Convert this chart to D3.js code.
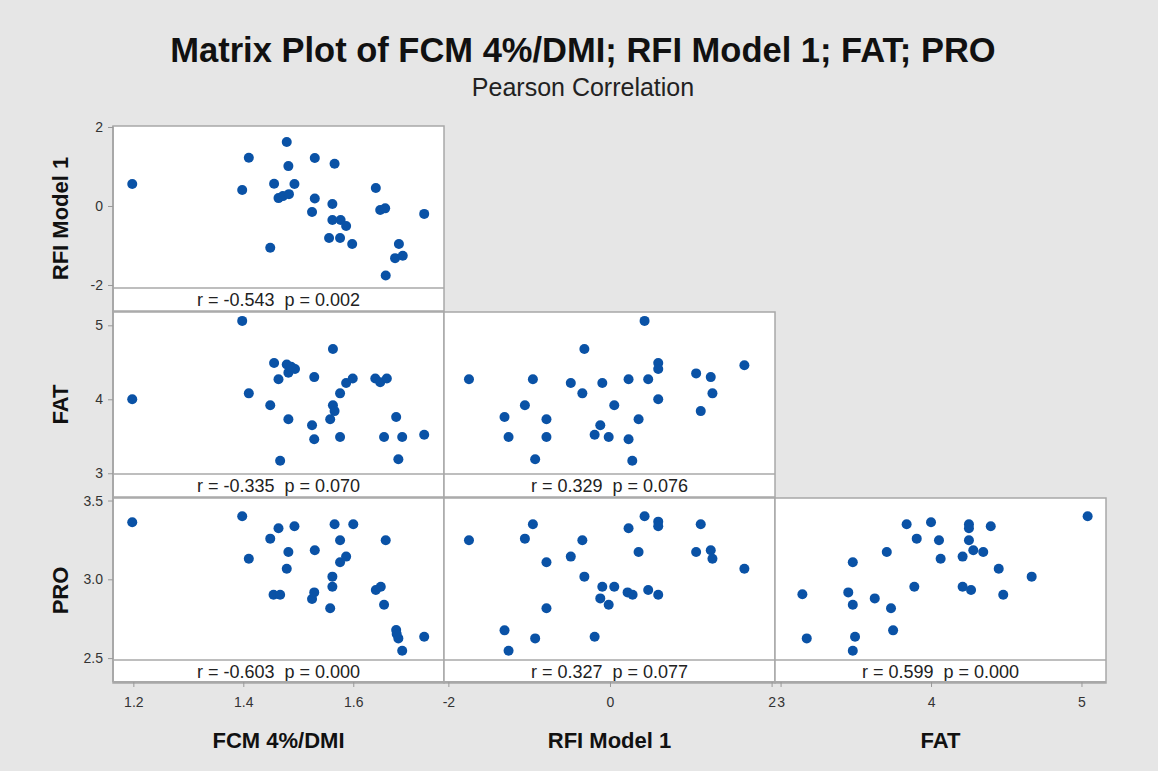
<!DOCTYPE html>
<html>
<head>
<meta charset="utf-8">
<script src="https://cdn.jsdelivr.net/npm/d3@7"></script>
<style>
  body { margin: 0; background: #e6e6e6; }
  text { font-family: "Liberation Sans", Arial, sans-serif; }
</style>
</head>
<body>
<div id="chart"></div>
<script>
// variables and tick labels
const varNames = ["FCM 4%/DMI", "RFI Model 1", "FAT", "PRO"];
const fcmTicks = [1.2, 1.4, 1.6];
const rfiTicks = [-2, 0, 2];
const fatTicks = [3, 4, 5];
const proTicks = [2.5, 3.0, 3.5];

// r / p for each panel
const corrLabels = [
  {row: 0, col: 0, r: "-0.543", p: "0.002"},
  {row: 1, col: 0, r: "-0.335", p: "0.070"},
  {row: 1, col: 1, r: "0.329", p: "0.076"},
  {row: 2, col: 0, r: "-0.603", p: "0.000"},
  {row: 2, col: 1, r: "0.327", p: "0.077"},
  {row: 2, col: 2, r: "0.599", p: "0.000"}
];

// [x, y] per panel
const fcmRfi = [[1.198,0.557],[1.410,1.22],[1.398,0.405],[1.479,1.62],[1.482,1.01],[1.456,0.565],[1.493,0.557],
  [1.464,0.20],[1.472,0.25],[1.483,0.30],[1.530,1.215],[1.566,1.07],[1.530,0.19],[1.525,-0.152],[1.562,0.05],
  [1.562,-0.354],[1.577,-0.354],[1.587,-0.506],[1.556,-0.81],[1.576,-0.81],[1.598,-0.96],[1.449,-1.055],
  [1.641,0.456],[1.649,-0.10],[1.658,-0.06],[1.729,-0.20],[1.683,-0.96],[1.676,-1.32],[1.690,-1.26],[1.659,-1.76]];

const fcmFat = [[1.198,4.0],[1.398,5.06],[1.41,4.08],[1.449,3.92],[1.456,4.49],[1.464,4.27],[1.479,4.47],
  [1.482,4.36],[1.494,4.41],[1.487,4.44],[1.482,3.73],[1.467,3.17],[1.529,4.30],[1.525,3.65],[1.529,3.46],
  [1.563,4.68],[1.576,4.08],[1.587,4.22],[1.599,4.28],[1.563,3.92],[1.566,3.84],[1.558,3.73],[1.576,3.49],
  [1.640,4.28],[1.649,4.23],[1.661,4.28],[1.678,3.76],[1.656,3.49],[1.689,3.49],[1.682,3.19],[1.729,3.52]];

const rfiFat = [[-1.745,4.27],[-1.305,3.76],[-1.255,3.49],[-1.053,3.92],[-0.954,4.27],[-0.926,3.19],
  [-0.786,3.73],[-0.786,3.49],[-0.485,4.22],[-0.317,4.68],[-0.342,4.08],[-0.095,4.22],[0.053,3.92],
  [-0.12,3.65],[-0.19,3.52],[-0.016,3.49],[0.23,4.27],[0.354,3.73],[0.23,3.46],[0.276,3.17],[0.428,5.06],
  [0.473,4.27],[0.597,4.49],[0.597,4.41],[0.597,4.0],[1.066,4.35],[1.247,4.30],[1.268,4.08],[1.123,3.84],[1.663,4.46]];

const fcmPro = [[1.198,3.362],[1.398,3.40],[1.41,3.131],[1.449,3.258],[1.464,3.324],[1.493,3.337],
  [1.482,3.173],[1.479,3.067],[1.455,2.902],[1.467,2.902],[1.530,3.184],[1.525,2.875],[1.529,2.917],
  [1.566,3.349],[1.600,3.349],[1.576,3.248],[1.576,3.108],[1.587,3.144],[1.562,3.017],[1.562,2.953],
  [1.558,2.816],[1.659,3.248],[1.641,2.932],[1.650,2.953],[1.656,2.839],[1.678,2.678],[1.682,2.625],
  [1.689,2.547],[1.729,2.636],[1.679,2.653]];

const rfiPro = [[-1.745,3.248],[-1.305,2.676],[-1.255,2.547],[-1.053,3.258],[-0.954,3.349],[-0.926,2.625],
  [-0.786,3.108],[-0.786,2.816],[-0.485,3.144],[-0.342,3.248],[-0.317,3.017],[-0.095,2.953],[0.053,2.953],
  [-0.12,2.879],[-0.016,2.839],[-0.19,2.636],[0.23,3.324],[0.428,3.40],[0.354,3.173],[0.218,2.917],
  [0.280,2.902],[0.473,2.932],[0.597,3.366],[0.597,3.337],[0.597,2.902],[1.123,3.349],[1.066,3.173],
  [1.247,3.184],[1.268,3.131],[1.663,3.067]];

const fatPro = [[3.145,2.905],[3.174,2.625],[3.45,2.917],[3.48,3.108],[3.48,2.839],[3.495,2.636],[3.48,2.547],
  [3.626,2.879],[3.706,3.173],[3.734,2.816],[3.748,2.676],[3.838,3.349],[3.905,3.258],[3.889,2.953],
  [4.0,3.362],[4.053,3.248],[4.064,3.131],[4.21,3.144],[4.21,2.953],[4.266,2.932],[4.252,3.349],
  [4.252,3.324],[4.252,3.248],[4.281,3.184],[4.347,3.173],[4.397,3.337],[4.45,3.067],[4.48,2.902],
  [4.669,3.017],[5.041,3.40]];

const panels = [
  {row: 0, col: 0, pts: fcmRfi},
  {row: 1, col: 0, pts: fcmFat},
  {row: 1, col: 1, pts: rfiFat},
  {row: 2, col: 0, pts: fcmPro},
  {row: 2, col: 1, pts: rfiPro},
  {row: 2, col: 2, pts: fatPro}
];

const W = 1158, H = 771;
const gridLeft = 113, gridTop = 126;
const colW = 331, rowStep = 186, plotH = 162, stripH = 23;
const axisY = gridTop + 2 * rowStep + plotH + stripH - 1;

const svg = d3.select("#chart").append("svg")
    .attr("width", W)
    .attr("height", H);

svg.append("rect")
    .attr("width", W).attr("height", H)
    .attr("fill", "#e6e6e6");

// x scales per column, y scales per row
const xScales = [
  d3.scaleLinear().domain([1.163, 1.765]).range([gridLeft, gridLeft + colW]),
  d3.scaleLinear().domain([-2.054, 2.042]).range([gridLeft + colW, gridLeft + 2 * colW]),
  d3.scaleLinear().domain([2.963, 5.163]).range([gridLeft + 2 * colW, gridLeft + 3 * colW])
];
const yScales = [
  d3.scaleLinear().domain([-2.076, 2.025]).range([gridTop + plotH, gridTop]),
  d3.scaleLinear().domain([2.99, 5.18]).range([gridTop + rowStep + plotH, gridTop + rowStep]),
  d3.scaleLinear().domain([2.488, 3.516]).range([gridTop + 2 * rowStep + plotH, gridTop + 2 * rowStep])
];
const xTicks = [fcmTicks, rfiTicks, fatTicks];
const yTicks = [rfiTicks, fatTicks, proTicks];

// plain hyphen for negatives, like the original
const fmtInt = d => String(d);
const fmtOne = d => d.toFixed(1);

// title
svg.append("text")
    .attr("x", 583).attr("y", 62)
    .attr("text-anchor", "middle")
    .attr("font-size", 34.5)
    .attr("font-weight", "bold")
    .attr("fill", "#111")
    .text("Matrix Plot of FCM 4%/DMI; RFI Model 1; FAT; PRO");

svg.append("text")
    .attr("x", 583).attr("y", 96)
    .attr("text-anchor", "middle")
    .attr("font-size", 25)
    .attr("fill", "#222")
    .text("Pearson Correlation");

// panels
panels.forEach(p => {
  const x0 = gridLeft + p.col * colW;
  const y0 = gridTop + p.row * rowStep;
  const g = svg.append("g");

  g.append("rect")
      .attr("x", x0).attr("y", y0)
      .attr("width", colW).attr("height", plotH + stripH)
      .attr("fill", "#fff")
      .attr("stroke", "#a8a8a8")
      .attr("stroke-width", 1.5);

  g.append("line")
      .attr("x1", x0).attr("x2", x0 + colW)
      .attr("y1", y0 + plotH).attr("y2", y0 + plotH)
      .attr("stroke", "#a8a8a8")
      .attr("stroke-width", 1.5);

  const c = corrLabels.find(d => d.row == p.row && d.col == p.col);
  g.append("text")
      .attr("x", x0 + colW / 2).attr("y", y0 + plotH + 18)
      .attr("text-anchor", "middle")
      .attr("font-size", 18)
      .attr("fill", "#222")
      .attr("xml:space", "preserve")
      .text(`r = ${c.r}  p = ${c.p}`);

  const xs = xScales[p.col], ys = yScales[p.row];
  g.selectAll("circle")
    .data(p.pts)
    .enter()
    .append("circle")
      .attr("cx", d => xs(d[0]))
      .attr("cy", d => ys(d[1]))
      .attr("r", 5)
      .attr("fill", "#0a52a6");
});

// left axis line and bottom axis line
svg.append("line")
    .attr("x1", gridLeft).attr("x2", gridLeft)
    .attr("y1", gridTop).attr("y2", axisY)
    .attr("stroke", "#a8a8a8").attr("stroke-width", 2);

svg.append("line")
    .attr("x1", gridLeft).attr("x2", gridLeft + 3 * colW)
    .attr("y1", axisY).attr("y2", axisY)
    .attr("stroke", "#a8a8a8").attr("stroke-width", 2);

yScales.forEach((ys, i) => {
  const ax = svg.append("g")
      .attr("transform", `translate(${gridLeft},0)`)
      .call(d3.axisLeft(ys).tickValues(yTicks[i])
        .tickFormat(i == 2 ? fmtOne : fmtInt)
        .tickSize(5).tickPadding(5));
  ax.select(".domain").remove();
  ax.selectAll(".tick line").attr("stroke", "#999");
  ax.selectAll(".tick text")
      .attr("font-size", 14)
      .attr("fill", "#333")
      .attr("font-family", "Liberation Sans, Arial, sans-serif");
});

xScales.forEach((xs, i) => {
  const ax = svg.append("g")
      .attr("transform", `translate(0,${axisY})`)
      .call(d3.axisBottom(xs).tickValues(xTicks[i])
        .tickFormat(i == 0 ? fmtOne : fmtInt)
        .tickSize(5).tickPadding(10));
  ax.select(".domain").remove();
  ax.selectAll(".tick line").attr("stroke", "#999");
  ax.selectAll(".tick text")
      .attr("font-size", 14)
      .attr("fill", "#333")
      .attr("font-family", "Liberation Sans, Arial, sans-serif");
});

// axis titles
xScales.forEach((xs, i) => {
  svg.append("text")
      .attr("x", gridLeft + i * colW + colW / 2)
      .attr("y", 748)
      .attr("text-anchor", "middle")
      .attr("font-size", 22)
      .attr("font-weight", "bold")
      .attr("fill", "#111")
      .text(varNames[i]);
});

yScales.forEach((ys, i) => {
  const cy = gridTop + i * rowStep + (plotH + stripH) / 2;
  svg.append("text")
      .attr("transform", `translate(68,${cy}) rotate(-90)`)
      .attr("text-anchor", "middle")
      .attr("font-size", 22)
      .attr("font-weight", "bold")
      .attr("fill", "#111")
      .text(varNames[i + 1]);
});
</script>
</body>
</html>
